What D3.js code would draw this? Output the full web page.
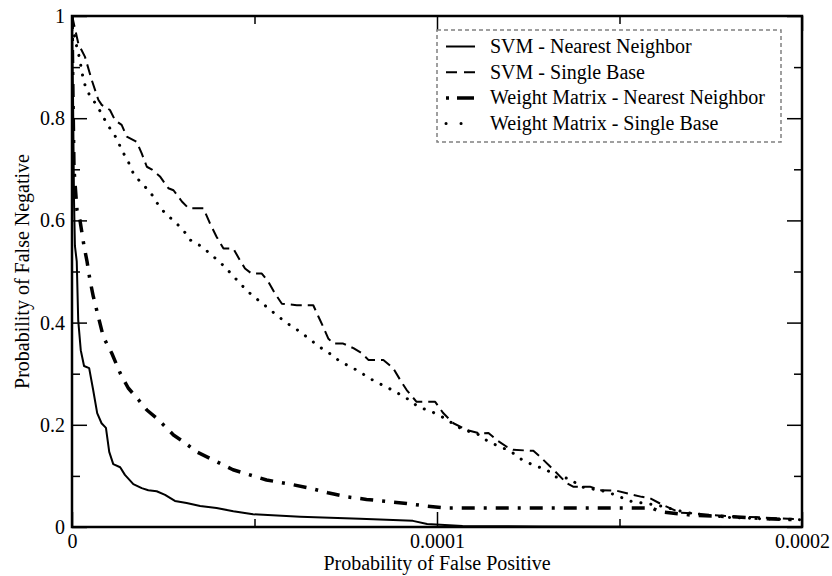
<!DOCTYPE html>
<html>
<head>
<meta charset="utf-8">
<script src="https://cdn.jsdelivr.net/npm/d3@7"></script>
<style>
  body { margin: 0; background: #fff; }
</style>
</head>
<body>
<div id="chart-area"></div>
<script>
// false positive rate in units of 1e-6, false negative probability
const svmNnFp = [0, 0.3, 0.55, 0.8, 1.3, 1.7, 2.4, 3.3, 4.7, 5.8, 6.9, 8.1, 9.3, 10.2, 11.3, 13.2, 14.5, 16.8, 19.1, 20.9, 23.2, 25.5, 28.2, 31.4, 35.1, 39.6, 44.2, 49.6, 62.5, 78.9, 93.4, 97.3, 107, 128, 181, 200];
const svmNnFn = [1.0, 0.83, 0.64, 0.55, 0.52, 0.405, 0.346, 0.315, 0.311, 0.268, 0.223, 0.203, 0.194, 0.147, 0.123, 0.117, 0.102, 0.084, 0.076, 0.072, 0.070, 0.063, 0.051, 0.047, 0.041, 0.037, 0.031, 0.025, 0.020, 0.016, 0.012, 0.006, 0.002, 0.001, 0.0, 0.0];

const svmSbFp = [0, 0.36, 1.73, 3.56, 5.4, 7.21, 8.14, 10.4, 11.8, 13.6, 15.0, 17.7, 19.1, 20.5, 21.8, 24.1, 26.4, 27.8, 30.1, 31.9, 36.0, 37.8, 39.6, 41.5, 44.2, 46.0, 47.4, 49.2, 52.0, 53.8, 55.6, 57.5, 61.6, 66.1, 67.5, 68.8, 70.2, 71.6, 74.3, 77.1, 79.4, 81.2, 85.3, 88.0, 89.9, 91.7, 94.4, 99.5, 101.7, 104.5, 108.1, 111.8, 114.1, 116.4, 119.1, 120.9, 126.4, 128.2, 131.9, 135.5, 137.3, 141.9, 144.7, 149.2, 152.0, 156.1, 158.4, 161.1, 162.9, 166.6, 170.2, 175.7, 182.1, 188.5, 193.1, 199.5];
const svmSbFn = [1.0, 0.99, 0.946, 0.92, 0.875, 0.836, 0.826, 0.816, 0.796, 0.787, 0.764, 0.754, 0.731, 0.705, 0.70, 0.686, 0.663, 0.659, 0.637, 0.624, 0.624, 0.594, 0.568, 0.545, 0.545, 0.522, 0.506, 0.496, 0.496, 0.48, 0.457, 0.437, 0.434, 0.434, 0.412, 0.392, 0.369, 0.359, 0.359, 0.35, 0.34, 0.327, 0.327, 0.311, 0.288, 0.268, 0.245, 0.245, 0.223, 0.203, 0.19, 0.183, 0.184, 0.17, 0.157, 0.151, 0.149, 0.138, 0.112, 0.086, 0.079, 0.079, 0.072, 0.071, 0.066, 0.059, 0.056, 0.046, 0.04, 0.028, 0.027, 0.023, 0.02, 0.019, 0.017, 0.015];

const wmNnFp = [0, 0.27, 0.55, 1.37, 2.19, 3.29, 4.11, 4.93, 5.84, 7.2, 8.58, 10.9, 13.2, 15.4, 18.2, 20.5, 23.2, 25.9, 27.8, 30.5, 34.2, 39.6, 44.1, 49.6, 53.3, 59.7, 65.2, 70.1, 75.3, 80.7, 86.2, 91.7, 97.2, 102.7, 117, 159, 161, 170, 181, 188, 199];
const wmNnFn = [1.0, 0.84, 0.70, 0.62, 0.60, 0.55, 0.52, 0.483, 0.451, 0.412, 0.372, 0.340, 0.301, 0.272, 0.249, 0.229, 0.213, 0.194, 0.180, 0.167, 0.147, 0.128, 0.112, 0.100, 0.092, 0.084, 0.076, 0.067, 0.059, 0.054, 0.050, 0.046, 0.041, 0.037, 0.037, 0.037, 0.030, 0.023, 0.020, 0.017, 0.014];

const wmSbFp = [0, 0.36, 1.29, 2.19, 2.66, 3.56, 4.93, 6.77, 8.58, 10.4, 12.2, 13.6, 15.4, 16.8, 19.1, 21.4, 23.2, 25.5, 28.2, 30.5, 32.3, 35.5, 38.3, 41.0, 43.3, 45.6, 48.3, 51.0, 53.8, 56.5, 59.3, 62.5, 65.2, 67.9, 70.7, 73.6, 76.8, 79.8, 82.7, 85.9, 89.0, 92.1, 94.9, 98.5, 101.3, 107.2, 110.9, 114.1, 117.3, 120.0, 123.2, 126.4, 130.1, 132.3, 136.4, 139.2, 146.5, 150.1, 153.3, 160.2, 163.4, 168.4, 173.9, 179.4, 185.8, 194.0, 199.5];
const wmSbFn = [1.0, 0.973, 0.94, 0.914, 0.891, 0.865, 0.843, 0.826, 0.802, 0.78, 0.761, 0.738, 0.715, 0.692, 0.672, 0.656, 0.635, 0.614, 0.597, 0.581, 0.562, 0.549, 0.532, 0.515, 0.498, 0.48, 0.46, 0.444, 0.428, 0.412, 0.397, 0.382, 0.367, 0.352, 0.339, 0.323, 0.312, 0.299, 0.286, 0.275, 0.263, 0.25, 0.235, 0.226, 0.216, 0.19, 0.183, 0.167, 0.157, 0.149, 0.132, 0.121, 0.112, 0.098, 0.095, 0.079, 0.069, 0.059, 0.05, 0.043, 0.037, 0.028, 0.023, 0.019, 0.017, 0.015, 0.014];

const seriesNames = ["SVM - Nearest Neighbor", "SVM - Single Base", "Weight Matrix - Nearest Neighbor", "Weight Matrix - Single Base"];
const xTicks = [0, 0.0001, 0.0002];
const xMinorTicks = [0.00005, 0.00015];
const yTicks = [0, 0.2, 0.4, 0.6, 0.8, 1];
const yMinorTicks = [0.1, 0.3, 0.5, 0.7, 0.9];

const FONT = "'Liberation Serif'";

const margin = { left: 72, right: 30, top: 16, bottom: 49 };
const full_width = 832, full_height = 576;
const width = full_width - margin.left - margin.right, height = full_height - margin.top - margin.bottom;

const svg = d3.select("#chart-area").append("svg")
    .attr("width", full_width).attr("height", full_height);
const g = svg.append("g").attr("transform", "translate(" + margin.left + ", " + margin.top + ")");

const x = d3.scaleLinear().domain([0, 0.0002]).range([0, width]);
const y = d3.scaleLinear().domain([0, 1]).range([height, 0]);

const styles = [
    { width: 2, dash: null, cap: "butt", legendDash: null },
    { width: 2, dash: "11,6", cap: "butt", legendDash: "11,7" },
    { width: 3.5, dash: "13,9,3,9", cap: "butt", legendDash: "3,8,17,10" },
    { width: 3, dash: "0.1,9.9", cap: "round", legendDash: "0.1,14.9" }
];

const series = [[svmNnFp, svmNnFn], [svmSbFp, svmSbFn], [wmNnFp, wmNnFn], [wmSbFp, wmSbFn]].map(s =>
    s[0].map((fp, i) => ({ fp: fp * 1e-6, fn: s[1][i] })));

g.append("clipPath").attr("id", "clip")
    .append("rect").attr("width", width).attr("height", height);

const line = d3.line().x(d => x(d.fp)).y(d => y(d.fn));

g.append("g").attr("clip-path", "url(#clip)")
    .selectAll("path").data(series).enter()
    .append("path")
    .attr("d", line)
    .attr("fill", "none")
    .attr("stroke", "#000")
    .attr("stroke-width", (d, i) => styles[i].width)
    .attr("stroke-dasharray", (d, i) => styles[i].dash)
    .attr("stroke-linecap", (d, i) => styles[i].cap)
    .attr("stroke-linejoin", "round");

// axes, ticks pointing inward on all sides
function addAxis(axis, transform, cls) {
    const a = g.append("g").attr("class", cls).attr("transform", transform).call(axis);
    a.select(".domain").remove();
    a.selectAll("line").attr("stroke", "#000").attr("stroke-width", 1.5);
    a.selectAll("text").style("font-family", FONT).style("font-size", "20px").style("fill", "#000");
    return a;
}

addAxis(d3.axisBottom(x).tickValues(xTicks).tickSize(-15).tickPadding(7).tickFormat(d => d === 0 ? "0" : d.toFixed(4)), "translate(0," + height + ")", "x-axis");
addAxis(d3.axisBottom(x).tickValues(xMinorTicks).tickSize(-8).tickFormat(""), "translate(0," + height + ")", "x-minor");
addAxis(d3.axisTop(x).tickValues(xTicks).tickSize(-15).tickFormat(""), "translate(0,0)", "x-top");
addAxis(d3.axisTop(x).tickValues(xMinorTicks).tickSize(-8).tickFormat(""), "translate(0,0)", "x-top-minor");
addAxis(d3.axisLeft(y).tickValues(yTicks).tickSize(-15).tickPadding(7).tickFormat(d => d === 0 || d === 1 ? String(d) : d.toFixed(1)), "translate(0,0)", "y-axis");
addAxis(d3.axisLeft(y).tickValues(yMinorTicks).tickSize(-8).tickFormat(""), "translate(0,0)", "y-minor");
addAxis(d3.axisRight(y).tickValues(yTicks).tickSize(-15).tickFormat(""), "translate(" + width + ",0)", "y-right");
addAxis(d3.axisRight(y).tickValues(yMinorTicks).tickSize(-8).tickFormat(""), "translate(" + width + ",0)", "y-right-minor");

// frame
g.append("rect")
    .attr("width", width)
    .attr("height", height)
    .attr("fill", "none")
    .attr("stroke", "#000")
    .attr("stroke-width", 2.5);

// X Label
g.append("text")
    .attr("x", width / 2)
    .attr("y", height + 43)
    .attr("text-anchor", "middle")
    .style("font-family", FONT)
    .style("font-size", "20px")
    .text("Probability of False Positive");

// Y Label
g.append("text")
    .attr("x", -(height / 2))
    .attr("y", -43)
    .attr("text-anchor", "middle")
    .attr("transform", "rotate(-90)")
    .style("font-family", FONT)
    .style("font-size", "20px")
    .text("Probability of False Negative");

// legend
const legend = g.append("g").attr("transform", "translate(" + (437 - margin.left) + "," + (30 - margin.top) + ")");

legend.append("rect")
    .attr("width", 344)
    .attr("height", 112)
    .attr("fill", "#fff")
    .attr("stroke", "#808080")
    .attr("stroke-width", 1.5)
    .attr("stroke-dasharray", "4,3");

const rows = legend.selectAll(".row").data(seriesNames).enter()
    .append("g").attr("class", "row")
    .attr("transform", (d, i) => "translate(0," + (23 + i * 25.7) + ")");

rows.append("line")
    .attr("x1", 9).attr("x2", 38)
    .attr("y1", -6.5).attr("y2", -6.5)
    .attr("stroke", "#000")
    .attr("stroke-width", (d, i) => styles[i].width)
    .attr("stroke-dasharray", (d, i) => styles[i].legendDash)
    .attr("stroke-linecap", (d, i) => styles[i].cap);

rows.append("text")
    .attr("x", 53)
    .attr("y", 0)
    .style("font-family", FONT)
    .style("font-size", "20px")
    .text(d => d);
</script>
</body>
</html>
